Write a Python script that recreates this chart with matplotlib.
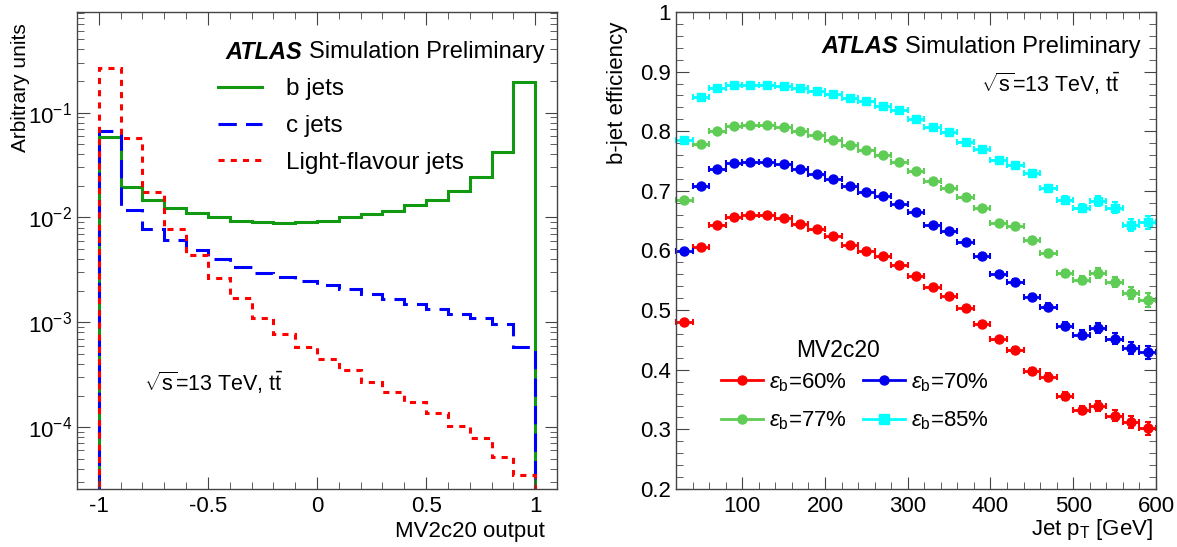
import numpy as np
import matplotlib
matplotlib.use('Agg')
from matplotlib import pyplot as plt
from matplotlib.lines import Line2D
from matplotlib.ticker import MultipleLocator, LogLocator, NullFormatter

plt.rcParams['font.family'] = ['Liberation Sans', 'DejaVu Sans']
plt.rcParams['mathtext.fontset'] = 'custom'
plt.rcParams['mathtext.rm'] = 'Liberation Sans'
plt.rcParams['mathtext.it'] = 'Liberation Sans:italic'
plt.rcParams['mathtext.bf'] = 'Liberation Sans:bold'

# Left panel: MV2c20 output distributions (20 bins from -1 to 1)
mv2_edges = [-1.0, -0.9, -0.8, -0.7, -0.6, -0.5, -0.4, -0.3, -0.2, -0.1, 0.0,
             0.1, 0.2, 0.3, 0.4, 0.5, 0.6, 0.7, 0.8, 0.9, 1.0]
b_jets = [0.0585, 0.0196, 0.0145, 0.0123, 0.0109, 0.0101, 0.0093, 0.0090, 0.0088, 0.0090,
          0.0093, 0.0101, 0.0107, 0.0115, 0.0130, 0.0148, 0.0180, 0.0245, 0.0420, 0.196]
c_jets = [0.0662, 0.0118, 0.00776, 0.00615, 0.00488, 0.00404, 0.00340, 0.00298, 0.00268, 0.00249,
          0.00228, 0.00208, 0.00185, 0.00167, 0.00148, 0.00135, 0.00119, 0.00109, 0.00096, 0.000585]
light_jets = [0.266, 0.0573, 0.01735, 0.00781, 0.00439, 0.00264, 0.00169, 0.00111, 0.000772, 0.000586,
              0.000444, 0.000349, 0.000272, 0.000217, 0.000173, 0.000137, 0.000103, 7.8e-5, 5.2e-5, 3.5e-5]

# Right panel: b-jet efficiency vs jet pT
pt = [30, 50, 70, 90, 110, 130, 150, 170, 190, 210, 230, 250, 270, 290, 310,
      330, 350, 370, 390, 410, 430, 450, 470, 490, 510, 530, 550, 570, 590]
pt_err = [10] * len(pt)
eff60 = [0.480, 0.606, 0.642, 0.656, 0.660, 0.659, 0.655, 0.645, 0.636, 0.624, 0.610, 0.600, 0.591, 0.576, 0.558,
         0.538, 0.524, 0.503, 0.476, 0.451, 0.433, 0.398, 0.388, 0.356, 0.333, 0.339, 0.323, 0.312, 0.302]
eff70 = [0.599, 0.708, 0.736, 0.747, 0.749, 0.749, 0.745, 0.737, 0.729, 0.720, 0.708, 0.698, 0.692, 0.678, 0.664,
         0.642, 0.632, 0.614, 0.590, 0.560, 0.547, 0.522, 0.506, 0.474, 0.459, 0.470, 0.452, 0.436, 0.429]
eff77 = [0.684, 0.779, 0.800, 0.809, 0.810, 0.810, 0.807, 0.800, 0.794, 0.786, 0.777, 0.769, 0.761, 0.748, 0.734,
         0.716, 0.705, 0.690, 0.671, 0.646, 0.641, 0.617, 0.595, 0.562, 0.550, 0.562, 0.547, 0.528, 0.517]
eff85 = [0.786, 0.858, 0.873, 0.878, 0.878, 0.878, 0.876, 0.872, 0.868, 0.862, 0.856, 0.850, 0.843, 0.836, 0.821,
         0.807, 0.798, 0.782, 0.770, 0.751, 0.743, 0.730, 0.704, 0.685, 0.671, 0.683, 0.672, 0.643, 0.647]
eff_err = [0.002, 0.002, 0.002, 0.002, 0.002, 0.002, 0.002, 0.002, 0.002, 0.002, 0.002, 0.002, 0.003, 0.003, 0.003,
           0.003, 0.003, 0.004, 0.004, 0.004, 0.005, 0.005, 0.006, 0.006, 0.007, 0.008, 0.009, 0.010, 0.011]

fig = plt.figure(figsize=(11.77, 5.47), dpi=100)
ax1 = fig.add_axes([77 / 1177, 1 - 489 / 547, 480 / 1177, 477 / 547])
ax2 = fig.add_axes([676 / 1177, 1 - 489 / 547, 480 / 1177, 477 / 547])

fs = 16

def root_ticks(ax):
    ax.tick_params(which='both', direction='in', top=True, right=True, labelsize=fs, color='#444444')
    ax.tick_params(which='major', length=9)
    ax.tick_params(which='minor', length=5)
    ax.tick_params(axis='x', which='major', pad=5)
    for s in ax.spines.values():
        s.set_linewidth(1.0)
        s.set_color('#444444')

def place_labels(ax, xl, yl):
    # ROOT style: labels flush with the far ends of the axes
    ax.xaxis.set_label_coords(*xl)
    ax.xaxis.label.set_ha('right')
    ax.xaxis.label.set_va('center')
    ax.yaxis.set_label_coords(*yl)
    ax.yaxis.label.set_ha('right')
    ax.yaxis.label.set_va('center')

def atlas_label(ax, x, y):
    t = ax.text(x, y, 'ATLAS', transform=ax.transAxes, fontsize=17, fontweight='bold',
                style='italic', va='center', ha='left')
    ax.annotate('Simulation Preliminary', xy=(1, 0.5), xycoords=t, xytext=(4.5, 0),
                textcoords='offset points', fontsize=17, va='center', ha='left')

# ---- left panel
base = 1e-7
ax1.stairs(b_jets, mv2_edges, baseline=base, color='#119911', lw=2.2)
ax1.stairs(c_jets, mv2_edges, baseline=base, color='#0000ff', lw=2.2, ls=(0, (6, 3)))
ax1.stairs(light_jets, mv2_edges, baseline=base, color='#ff0000', lw=2.2, ls=(0, (2, 2)))
ax1.set_yscale('log')
ax1.set_xlim(-1.1, 1.1)
ax1.set_ylim(2.57e-5, 0.91)
ax1.xaxis.set_minor_locator(MultipleLocator(0.1))
ax1.yaxis.set_minor_locator(LogLocator(base=10, subs=np.arange(2, 10)))
ax1.yaxis.set_minor_formatter(NullFormatter())
ax1.set_xticks([-1, -0.5, 0, 0.5, 1])
ax1.set_xticklabels(['-1', '-0.5', '0', '0.5', '1'])
root_ticks(ax1)
ax1.set_ylabel('Arbitrary units', fontsize=15)
ax1.set_xlabel('MV2c20 output', fontsize=fs)
place_labels(ax1, ((545 - 77) / 480, (489 - 532) / 477), ((21 - 77) / 480, (489 - 23) / 477))
atlas_label(ax1, 0.31, 0.916)
ax1.text(0.14, 0.222, r'$\sqrt{\mathrm{s}}$=13 TeV, $\mathrm{t\bar{t}}$', transform=ax1.transAxes,
         fontsize=15.5, va='center', ha='left')
leg_handles = [Line2D([], [], color='#119911', lw=2.2),
               Line2D([], [], color='#0000ff', lw=2.2, ls=(0, (6, 3))),
               Line2D([], [], color='#ff0000', lw=2.2, ls=(0, (2, 2)))]
ax1.legend(leg_handles, ['b jets', 'c jets', 'Light-flavour jets'], loc='upper left',
           bbox_to_anchor=(0.273, 0.881), frameon=False, fontsize=17.5, handlelength=1.8,
           handletextpad=1.0, labelspacing=0.6, borderaxespad=0)

# ---- right panel
series = [(eff60, '#ff0000', 'o', r'$\varepsilon_{\mathrm{b}}$=60%'),
          (eff70, '#0000ee', 'o', r'$\varepsilon_{\mathrm{b}}$=70%'),
          (eff77, '#5fcc55', 'o', r'$\varepsilon_{\mathrm{b}}$=77%'),
          (eff85, '#00ffff', 's', r'$\varepsilon_{\mathrm{b}}$=85%')]
handles = []
for vals, col, mk, lab in series:
    ax2.errorbar(pt, vals, xerr=pt_err, yerr=eff_err, fmt=mk, color=col, ms=6.5 if mk == 'o' else 6,
                 elinewidth=2, capsize=2, capthick=1.5, clip_on=False)
    handles.append(Line2D([], [], color=col, marker=mk, lw=2, ms=6.5))
ax2.set_xlim(20, 600)
ax2.set_ylim(0.2, 1.0)
ax2.xaxis.set_major_locator(MultipleLocator(100))
ax2.xaxis.set_minor_locator(MultipleLocator(20))
ax2.yaxis.set_minor_locator(MultipleLocator(0.02))
ax2.set_yticks([0.2, 0.3, 0.4, 0.5, 0.6, 0.7, 0.8, 0.9, 1.0])
ax2.set_yticklabels(['0.2', '0.3', '0.4', '0.5', '0.6', '0.7', '0.8', '0.9', '1'])
root_ticks(ax2)
ax2.set_ylabel('b-jet efficiency', fontsize=fs)
ax2.set_xlabel(r'Jet p$_{\mathrm{T}}$ [GeV]', fontsize=fs)
place_labels(ax2, ((1153 - 676) / 480, (489 - 530) / 477), ((618 - 676) / 480, (489 - 22) / 477))
atlas_label(ax2, 0.304, 0.927)
ax2.text(0.635, 0.85, r'$\sqrt{\mathrm{s}}$=13 TeV, $\mathrm{t\bar{t}}$', transform=ax2.transAxes,
         fontsize=15.5, va='center', ha='left')
ax2.text(0.338, 0.291, 'MV2c20', transform=ax2.transAxes, fontsize=16.5, va='center', ha='center')
# legend fills column-wise: reorder so rows read 60/70 then 77/85
order = [0, 2, 1, 3]
ax2.legend([handles[i] for i in order], [series[i][3] for i in order], loc='upper left', ncol=2,
           bbox_to_anchor=(0.075, 0.266), frameon=False, fontsize=16, handlelength=1.9,
           handletextpad=0.27, columnspacing=0.72, labelspacing=0.72, borderaxespad=0)

fig.savefig('out.png', dpi=100)
